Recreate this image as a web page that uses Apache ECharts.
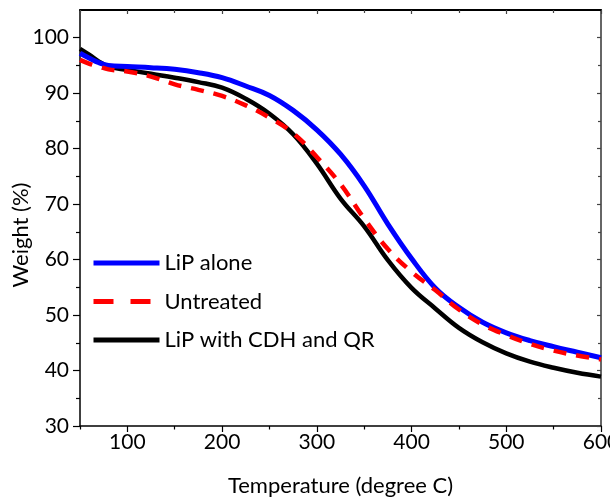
<!DOCTYPE html>
<html>
<head>
<meta charset="utf-8">
<script src="https://cdn.jsdelivr.net/npm/echarts@6/dist/echarts.min.js"></script>
<style>html,body{margin:0;padding:0;background:#fff}#c{width:610px;height:500px}</style>
</head>
<body>
<div id="c"></div>
<script>
var temperature = [50, 60, 70, 80, 100, 125, 150, 175, 200, 225, 250, 275, 300, 325, 350, 375, 400, 425, 450, 475, 500, 525, 550, 575, 600];
var lipAlone   = [97.2, 96.3, 95.5, 95.0, 94.8, 94.6, 94.3, 93.7, 92.8, 91.3, 89.6, 86.9, 83.4, 79.0, 73.3, 66.4, 60.2, 54.9, 51.4, 48.7, 46.8, 45.4, 44.3, 43.3, 42.3];
var untreated  = [96.0, 95.3, 94.8, 94.3, 93.9, 93.0, 91.6, 90.6, 89.5, 87.8, 85.6, 82.8, 78.5, 73.6, 67.4, 61.9, 57.8, 54.5, 51.0, 48.3, 46.4, 44.8, 43.6, 42.7, 42.0];
var lipCdhQr   = [98.0, 96.9, 95.7, 94.8, 94.2, 93.5, 92.8, 92.0, 91.0, 89.0, 86.3, 82.6, 77.3, 71.0, 66.0, 59.9, 54.9, 51.2, 47.7, 45.1, 43.1, 41.6, 40.5, 39.6, 38.9];
var seriesNames = ['LiP alone', 'Untreated', 'LiP with CDH and QR'];
var xMajorTicks = [100, 200, 300, 400, 500, 600];
var xMinorTicks = [50, 150, 250, 350, 450, 550];
var yMajorTicks = [30, 40, 50, 60, 70, 80, 90, 100];
var yMinorTicks = [35, 45, 55, 65, 75, 85, 95];

var FONT = 'Lato, "Open Sans", sans-serif';
function pairs(xs, ys){ return xs.map(function(x,i){ return [x, ys[i]]; }); }

var chart = echarts.init(document.getElementById('c'), null, {renderer:'canvas'});
var noSplit = {show:false};
var option = {
  animation: false,
  backgroundColor: '#fff',
  grid: {left: 80, right: 9, top: 10, bottom: 74, containLabel: false, outerBoundsMode: 'none'},
  xAxis: [
    {type:'value', min:50, max:600, position:'bottom',
     name:'Temperature (degree C)', nameLocation:'middle', nameGap:49, nameMoveOverlap:false,
     nameTextStyle:{fontFamily:FONT, fontSize:22, color:'#000'},
     axisLine:{show:true, onZero:false, lineStyle:{color:'#000', width:1.5}},
     axisTick:{show:true, inside:false, length:6, customValues:xMajorTicks, lineStyle:{color:'#000', width:1.2}},
     axisLabel:{show:true, customValues:xMajorTicks, margin:6, fontFamily:FONT, fontSize:21, color:'#000'},
     splitLine:noSplit},
    {type:'value', min:50, max:600, position:'bottom',
     axisLine:{show:false}, axisLabel:{show:false},
     axisTick:{show:true, inside:false, length:3.5, customValues:xMinorTicks, lineStyle:{color:'#000', width:1.2}},
     splitLine:noSplit},
    {type:'value', min:50, max:600, position:'top',
     axisLine:{show:true, onZero:false, lineStyle:{color:'#000', width:2}}, axisLabel:{show:false},
     axisTick:{show:true, inside:true, length:4, customValues:xMajorTicks, lineStyle:{color:'#444', width:1.2}},
     splitLine:noSplit},
    {type:'value', min:50, max:600, position:'top',
     axisLine:{show:false}, axisLabel:{show:false},
     axisTick:{show:true, inside:true, length:3, customValues:xMinorTicks, lineStyle:{color:'#444', width:1.2}},
     splitLine:noSplit}
  ],
  yAxis: [
    {type:'value', min:30, max:105, position:'left',
     name:'Weight (%)', nameLocation:'middle', nameGap:48, nameMoveOverlap:false,
     nameTextStyle:{fontFamily:FONT, fontSize:22, color:'#000', padding:[0,34,0,0]},
     axisLine:{show:true, onZero:false, lineStyle:{color:'#000', width:1.5}},
     axisTick:{show:true, inside:false, length:7, customValues:yMajorTicks, lineStyle:{color:'#000', width:1.2}},
     axisLabel:{show:true, customValues:yMajorTicks, margin:11, fontFamily:FONT, fontSize:21, color:'#000'},
     splitLine:noSplit},
    {type:'value', min:30, max:105, position:'left',
     axisLine:{show:false}, axisLabel:{show:false},
     axisTick:{show:true, inside:false, length:4, customValues:yMinorTicks, lineStyle:{color:'#000', width:1.2}},
     splitLine:noSplit},
    {type:'value', min:30, max:105, position:'right',
     axisLine:{show:true, onZero:false, lineStyle:{color:'#666', width:2}}, axisLabel:{show:false},
     axisTick:{show:true, inside:true, length:4, customValues:yMajorTicks, lineStyle:{color:'#444', width:1.2}},
     splitLine:noSplit},
    {type:'value', min:30, max:105, position:'right',
     axisLine:{show:false}, axisLabel:{show:false},
     axisTick:{show:true, inside:true, length:3, customValues:yMinorTicks, lineStyle:{color:'#444', width:1.2}},
     splitLine:noSplit}
  ],
  legend: {
    orient:'vertical', left:86, top:247, itemWidth:66, itemHeight:22, itemGap:16.5,
    textStyle:{fontFamily:FONT, fontSize:22, color:'#000'},
    itemStyle:{opacity:0},
    lineStyle:{width:5},
    data:[
      {name:seriesNames[0]},
      {name:seriesNames[1], lineStyle:{type:[20,17], width:5}},
      {name:seriesNames[2]}
    ]
  },
  series: [
    {name:seriesNames[0], type:'line', data:pairs(temperature, lipAlone), smooth:0.4, symbol:'none',
     lineStyle:{color:'#0000ff', width:5}, itemStyle:{color:'#0000ff'}, z:3},
    {name:seriesNames[1], type:'line', data:pairs(temperature, untreated), smooth:0.4, symbol:'none',
     lineStyle:{color:'#ff0000', width:4.5, type:[13,10]}, itemStyle:{color:'#ff0000'}, z:4},
    {name:seriesNames[2], type:'line', data:pairs(temperature, lipCdhQr), smooth:0.4, symbol:'none',
     lineStyle:{color:'#000000', width:4.5}, itemStyle:{color:'#000000'}, z:2}
  ]
};
chart.setOption(option);
</script>
</body>
</html>
